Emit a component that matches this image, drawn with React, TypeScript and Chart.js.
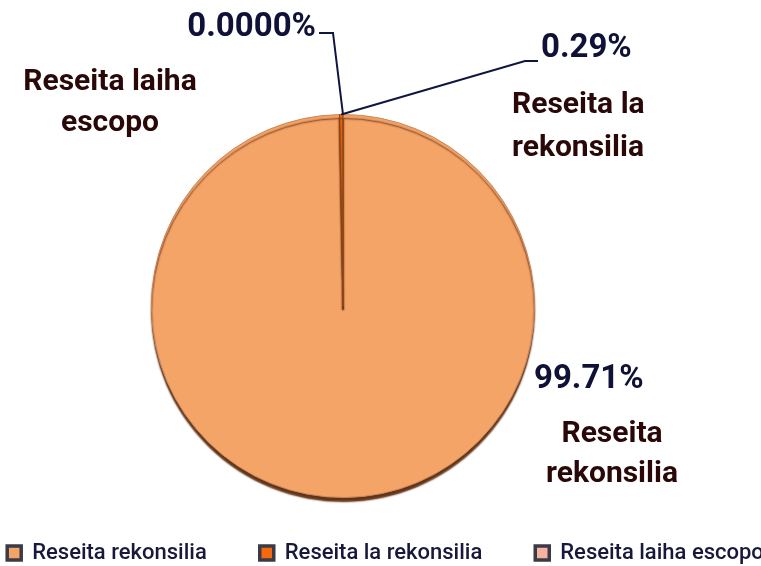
import React, { useEffect, useRef } from 'react';
import { Chart, registerables } from 'chart.js';

Chart.register(...registerables);

// ---- data ----
const categories = ['Reseita rekonsilia', 'Reseita la rekonsilia', 'Reseita laiha escopo'];
const shares = [99.71, 0.29, 0.0];
const percentLabels = ['99.71%', '0.29%', '0.0000%'];
const nameLines = [
  ['Reseita', 'rekonsilia'],
  ['Reseita la', 'rekonsilia'],
  ['Reseita laiha', 'escopo'],
];

// ---- style ----
const sliceColors = ['#F5A468', '#F4690E', '#F8B3A0'];
const sliceBorders = ['#C8875A', '#8E4414', '#C8875A'];
const FAMILY = 'Roboto, "Liberation Sans", sans-serif';
const PCT_COLOR = '#0F1136';
const NAME_COLOR = '#2A0808';
const LEGEND_COLOR = '#17183A';

const W = 761;
const H = 566;
const PIE = { cx: 343, cy: 306, r: 192 };

// label layout, offsets relative to the pie centre
const percentPos = [
  { dx: 191, dy: 82, align: 'left', leader: null },
  { dx: 198, dy: -249, align: 'left', leader: [[182, -245], [195, -245]] },
  { dx: -27, dy: -270, align: 'right', leader: [[-10, -273], [-24, -273]] },
];
const namePos = [
  { dx: 269, dys: [136, 176], align: 'center' },
  { dx: 169, dys: [-193, -150], align: 'left' },
  { dx: -233, dys: [-216, -175], align: 'center' },
];

const areaPlugin = {
  id: 'pieArea',
  afterLayout(chart: any) {
    chart.chartArea = {
      left: PIE.cx - PIE.r,
      right: PIE.cx + PIE.r,
      top: PIE.cy - PIE.r,
      bottom: PIE.cy + PIE.r,
      width: PIE.r * 2,
      height: PIE.r * 2,
    };
  },
};

const rimPlugin = {
  id: 'rim',
  beforeDatasetsDraw(chart: any) {
    const ctx = chart.ctx;
    ctx.save();
    ctx.shadowColor = 'rgba(90,40,10,0.95)';
    ctx.shadowBlur = 1.5;
    ctx.shadowOffsetX = 0;
    ctx.shadowOffsetY = 4;
  },
  afterDatasetsDraw(chart: any) {
    const ctx = chart.ctx;
    ctx.restore();
    const meta = chart.getDatasetMeta(0);
    ctx.save();
    meta.data.forEach((arc: any, i: number) => {
      const { x, y, outerRadius, startAngle, endAngle } = arc.getProps(
        ['x', 'y', 'outerRadius', 'startAngle', 'endAngle'],
        true
      );
      const mid = (startAngle + endAngle) / 2;
      const p = percentPos[i];
      if (p.leader) {
        ctx.beginPath();
        ctx.strokeStyle = '#0E1640';
        ctx.lineWidth = 2;
        ctx.moveTo(x + outerRadius * Math.cos(mid), y + outerRadius * Math.sin(mid));
        p.leader.forEach(([lx, ly]) => ctx.lineTo(x + lx, y + ly));
        ctx.stroke();
      }
      ctx.fillStyle = PCT_COLOR;
      ctx.font = `bold 33px ${FAMILY}`;
      ctx.textAlign = p.align;
      ctx.textBaseline = 'alphabetic';
      ctx.fillText(percentLabels[i], x + p.dx, y + p.dy);

      const n = namePos[i];
      ctx.fillStyle = NAME_COLOR;
      ctx.font = `bold 30px ${FAMILY}`;
      ctx.textAlign = n.align;
      nameLines[i].forEach((line, k) => ctx.fillText(line, x + n.dx, y + n.dys[k]));
    });
    ctx.restore();
  },
};

export default function App() {
  const ref = useRef<HTMLCanvasElement>(null);
  useEffect(() => {
    if (!ref.current) return;
    const chart = new Chart(ref.current, {
      type: 'pie',
      data: {
        labels: categories,
        datasets: [
          {
            data: shares,
            backgroundColor: sliceColors,
            borderColor: sliceBorders,
            borderWidth: 1,
          },
        ],
      },
      options: {
        responsive: false,
        animation: false,
        devicePixelRatio: 1,
        layout: { padding: { left: -80, right: -90, top: 0, bottom: -8 } },
        plugins: {
          tooltip: { enabled: false },
          legend: {
            position: 'bottom',
            labels: {
              font: { family: FAMILY, size: 22, weight: '500' },
              color: LEGEND_COLOR,
              boxWidth: 14,
              boxHeight: 14,
              padding: 53,
              generateLabels: (c: any) => {
                const base = (Chart as any).overrides.doughnut.plugins.legend.labels.generateLabels(c);
                return base.map((it: any) => ({ ...it, strokeStyle: '#3B3B47', lineWidth: 3.5 }));
              },
            },
          },
        },
      } as any,
      plugins: [areaPlugin, rimPlugin],
    });
    return () => chart.destroy();
  }, []);
  return (
    <div style={{ position: 'absolute', left: 0, top: 0, width: W, height: H, background: '#fff' }}>
      <canvas ref={ref} width={W} height={H} />
    </div>
  );
}
